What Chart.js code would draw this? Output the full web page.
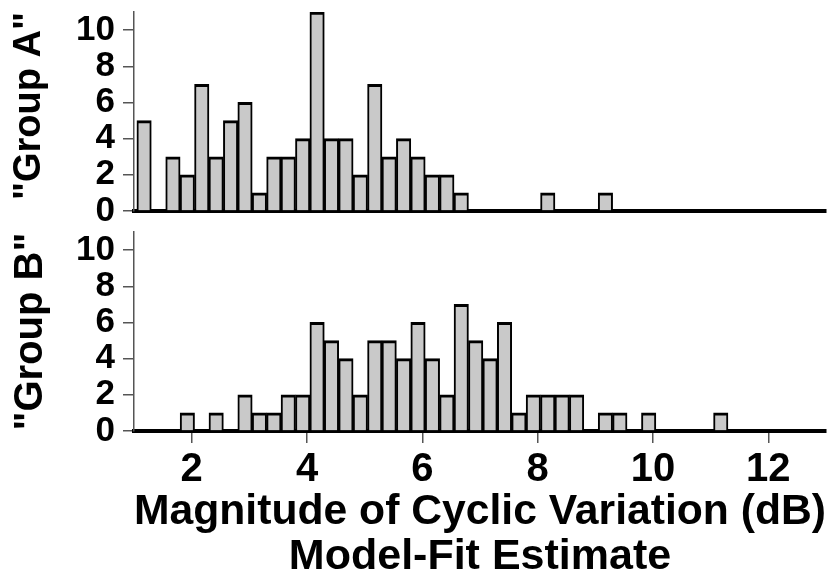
<!DOCTYPE html>
<html>
<head>
<meta charset="utf-8">
<script src="https://cdn.jsdelivr.net/npm/chart.js@4.4.1/dist/chart.umd.min.js"></script>
<style>
  body { margin: 0; background: #fff; }
  #wrap { position: relative; width: 831px; height: 584px; }
  #chart_a { position: absolute; left: 0; top: 0; }
  #chart_b { position: absolute; left: 0; top: 220px; }
</style>
</head>
<body>
<div id="wrap">
  <canvas id="chart_a" width="831" height="228"></canvas>
  <canvas id="chart_b" width="831" height="364"></canvas>
</div>
<script>
// histogram bins are 0.25 dB wide, the first one starts at 1.05 dB
const binStart = 1.05
const binWidth = 0.25

// counts per bin
const groupA = [5,0,3,2,7,3,5,6,1,3,3,4,11,4,4,2,7,3,4,3,2,2,1,0,0,0,0,0,1,0,0,0,1]
const groupB = [0,0,0,1,0,1,0,2,1,1,2,2,6,5,4,2,5,5,4,6,4,2,7,5,4,6,1,2,2,2,2,0,1,1,0,1,0,0,0,0,1]

const xTicks = [2,4,6,8,10,12]
const yTicks = [0,2,4,6,8,10]
const groupLabels = ['"Group A"', '"Group B"']
const xTitle = ['Magnitude of Cyclic Variation (dB)', 'Model-Fit Estimate']

const FONT = "'Liberation Sans', Arial, Helvetica, sans-serif"

function noPad (axis) {
  axis.paddingTop = 0
  axis.paddingBottom = 0
  axis.paddingLeft = 0
  axis.paddingRight = 0
}

function histChart (id, counts, label, showX) {
  var ctx = document.getElementById(id).getContext('2d');
  return new Chart(ctx, {
      type: 'bar',
      data: {
          datasets: [{
              label: label,
              data: counts.map((c, i) => ({ x: binStart + binWidth * (i + 0.5), y: c })),
              backgroundColor: '#c9c9c9',
              borderColor: '#000',
              borderWidth: { top: 3, left: 2, right: 2, bottom: 0 },
              borderSkipped: 'start',
              barPercentage: 1,
              categoryPercentage: 1
          }]
      },
      options: {
          responsive: false,
          animation: false,
          layout: { padding: { top: 12, right: 5, bottom: showX ? 4 : 17, left: 0 } },
          plugins: {
              legend: { display: false },
              tooltip: { enabled: false }
          },
          scales: {
              x: {
                  type: 'linear',
                  min: 1,
                  max: 13,
                  offset: false,
                  afterBuildTicks: axis => { axis.ticks = xTicks.map(v => ({ value: v })) },
                  afterFit: axis => { axis.height = showX ? 149 : 0; noPad(axis) },
                  border: { color: '#000', width: 4 },
                  grid: { display: showX, offset: false, drawOnChartArea: false, color: '#555', lineWidth: 1.5, tickLength: 12 },
                  ticks: { display: showX, maxRotation: 0, color: '#000', padding: 7,
                           font: { family: FONT, size: 40, weight: 'bold', lineHeight: 1 } },
                  title: { display: showX, text: xTitle, color: '#000', padding: { top: 0, bottom: 0 },
                           font: { family: FONT, size: 43, weight: 'bold', lineHeight: 1.047 } }
              },
              y: {
                  min: 0,
                  max: 11,
                  afterBuildTicks: axis => { axis.ticks = yTicks.map(v => ({ value: v })) },
                  afterFit: axis => { axis.width = 134; noPad(axis) },
                  border: { color: '#555', width: 1.5 },
                  grid: { drawOnChartArea: false, color: '#555', lineWidth: 1.5, tickLength: 11 },
                  ticks: { autoSkip: false, color: '#000', padding: 8,
                           font: { family: FONT, size: 35, weight: 'bold', lineHeight: 0.7 } },
                  title: { display: true, text: label, color: '#000', align: showX ? 'center' : 'end',
                           padding: { top: 7, bottom: 0 },
                           font: { family: FONT, size: showX ? 40 : 38, weight: 'bold', lineHeight: 1.2 } }
              }
          }
      }
  });
}

histChart('chart_a', groupA, groupLabels[0], false)
histChart('chart_b', groupB, groupLabels[1], true)
</script>
</body>
</html>
